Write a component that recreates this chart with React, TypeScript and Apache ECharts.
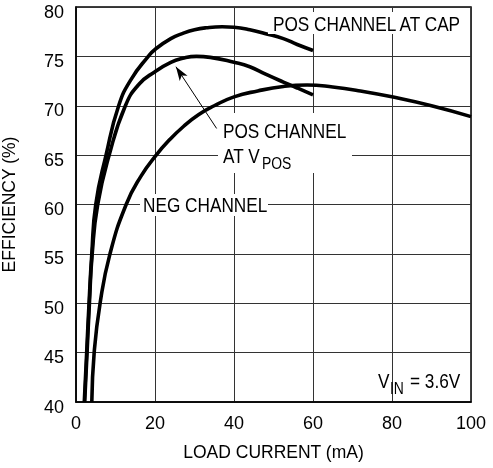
import React, { useEffect, useRef } from "react";
import * as echarts from "echarts";

const FONT = "'Liberation Sans', Arial, sans-serif";

const xTicks = [0, 20, 40, 60, 80, 100];
const yTicks = [40, 45, 50, 55, 60, 65, 70, 75, 80];

const posCapX = [2.1, 2.7, 3.3, 4.0, 5.0, 7.6, 10.8, 14, 18.3, 20, 24, 27.2, 30, 33, 37, 40, 44, 48, 52.5, 56, 60];
const posCapY = [40, 45, 50, 55, 60, 65, 70, 72.7, 75, 75.7, 76.8, 77.35, 77.7, 77.9, 78.0, 77.95, 77.7, 77.3, 76.8, 76.2, 75.6];

const posVposX = [2.2, 2.8, 3.4, 4.1, 5.5, 8.4, 12.5, 16, 20, 24, 27, 30.5, 34, 40, 44, 48, 52.5, 56, 60];
const posVposY = [40, 45, 50, 55, 60, 65, 70, 72.2, 73.45, 74.4, 74.8, 75.0, 74.9, 74.4, 73.95, 73.2, 72.4, 71.8, 71.1];

const negX = [4.0, 4.6, 6.1, 8.6, 12.7, 16.5, 20.3, 23.8, 27.2, 31, 35, 40, 46, 52.5, 58.5, 65, 72, 80, 90, 100];
const negY = [40, 45, 50, 55, 60, 62.9, 65, 66.6, 67.9, 69.1, 70.0, 70.9, 71.5, 71.95, 72.1, 71.9, 71.5, 70.9, 70.0, 68.9];

const arrowFrom = [35.6, 67.7];
const arrowTo = [25.3, 73.95];

const zip = (xs: number[], ys: number[]) => xs.map((x, i) => [x, ys[i]]);

export default function App() {
  const ref = useRef<HTMLDivElement>(null);
  useEffect(() => {
    document.body.style.margin = "0";
    const chart = echarts.init(ref.current!, null, { renderer: "svg" });
    const lineStyle = { color: "#000", width: 3.6 };
    const txt = (x: number, y: number, text: string, size = 21) => ({
      type: "text",
      x,
      y,
      scaleX: 0.82,
      z: 100,
      style: {
        text,
        fill: "#000",
        fontFamily: FONT,
        fontSize: size,
        align: "left",
        verticalAlign: "middle",
      },
    });
    const box = (x: number, y: number, w: number, h: number) => ({
      type: "rect",
      z: 90,
      shape: { x, y, width: w, height: h },
      style: { fill: "#fff" },
    });
    const series = (xs: number[], ys: number[], extra: any = {}) => ({
      type: "line",
      data: zip(xs, ys),
      smooth: 0.5,
      showSymbol: false,
      lineStyle,
      z: 5,
      ...extra,
    });
    chart.setOption({
      animation: false,
      grid: {
        left: 76,
        right: 22,
        top: 7,
        bottom: 66,
        containLabel: false,
        outerBoundsMode: "none",
        show: true,
        borderColor: "#000",
        borderWidth: 1.5,
        backgroundColor: "transparent",
      },
      xAxis: {
        type: "value",
        min: xTicks[0],
        max: xTicks[xTicks.length - 1],
        interval: 20,
        name: "LOAD CURRENT (mA)",
        nameLocation: "middle",
        nameGap: 41,
        nameTextStyle: { fontFamily: FONT, fontSize: 17.5, color: "#000" },
        axisLine: { show: true, lineStyle: { color: "#000", width: 1.5 } },
        axisTick: { show: false },
        splitLine: { show: true, lineStyle: { color: "#333", width: 1 } },
        axisLabel: { fontFamily: FONT, fontSize: 18, color: "#000", margin: 12 },
      },
      yAxis: {
        type: "value",
        min: yTicks[0],
        max: yTicks[yTicks.length - 1],
        interval: 5,
        name: "EFFICIENCY (%)",
        nameLocation: "middle",
        nameGap: 58,
        nameTextStyle: { fontFamily: FONT, fontSize: 17.5, color: "#000" },
        axisLine: { show: true, lineStyle: { color: "#000", width: 1.5 } },
        axisTick: { show: false },
        splitLine: { show: true, lineStyle: { color: "#333", width: 1 } },
        axisLabel: {
          fontFamily: FONT,
          fontSize: 18,
          color: "#000",
          margin: 12,
          verticalAlign: "top",
          lineHeight: 9,
        },
      },
      series: [
        series(posCapX, posCapY),
        series(posVposX, posVposY, {
          markLine: {
            silent: true,
            symbol: ["none", "arrow"],
            symbolSize: [7, 14],
            label: { show: false },
            lineStyle: { color: "#000", width: 1, type: "solid" },
            data: [[{ coord: arrowFrom }, { coord: arrowTo }]],
          },
        }),
        series(negX, negY),
      ],
      graphic: [
        box(268, 12, 200, 22),
        txt(273, 23.5, "POS CHANNEL AT CAP"),
        box(218, 113, 134, 60),
        txt(223, 131, "POS CHANNEL"),
        txt(223, 156, "AT V"),
        txt(262, 163, "POS", 17),
        box(140, 194, 128, 22),
        txt(143, 205, "NEG CHANNEL"),
        txt(378, 381, "V"),
        txt(390, 388, "IN", 17),
        txt(410, 381, "= 3.6V"),
      ],
    });
    return () => chart.dispose();
  }, []);
  return (
    <div
      ref={ref}
      style={{ position: "fixed", left: 0, top: 0, width: 493, height: 468 }}
    />
  );
}
